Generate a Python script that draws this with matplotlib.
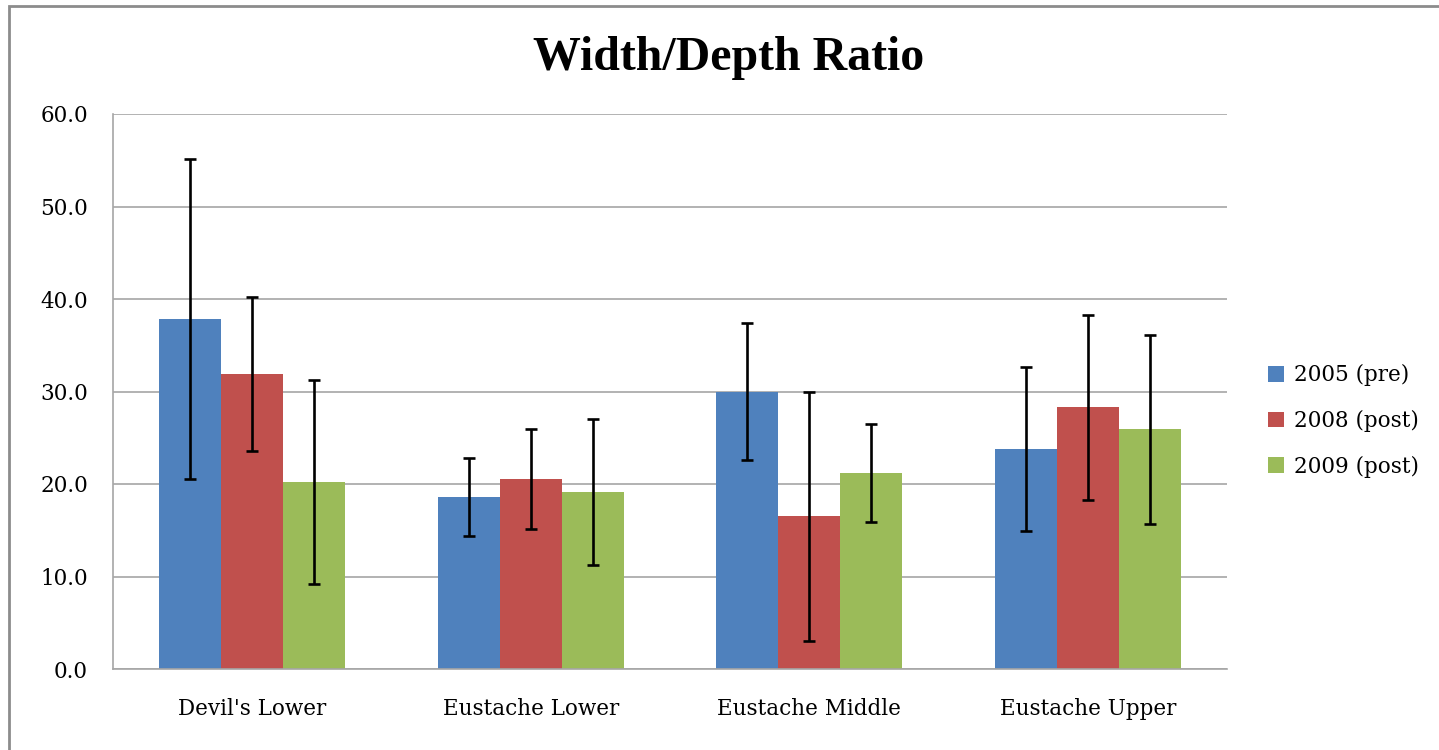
import numpy as np
import matplotlib.pyplot as plt
from matplotlib.patches import Rectangle

categories = ["Devil's Lower", "Eustache Lower", "Eustache Middle", "Eustache Upper"]
series = ["2005 (pre)", "2008 (post)", "2009 (post)"]
values_2005 = [37.8, 18.6, 30.0, 23.8]
values_2008 = [31.9, 20.5, 16.5, 28.3]
values_2009 = [20.2, 19.1, 21.2, 25.9]
err_2005 = [17.3, 4.2, 7.4, 8.9]
err_2008 = [8.3, 5.4, 13.5, 10.0]
err_2009 = [11.0, 7.9, 5.3, 10.2]
yticks = [0, 10, 20, 30, 40, 50, 60]

colors = ["#4F81BD", "#C0504D", "#9BBB59"]
plt.rcParams["font.family"] = ["DejaVu Serif"]

fig = plt.figure(figsize=(14.39, 7.5), dpi=100)
ax = fig.add_axes([0.0785, 0.108, 0.7742, 0.740])

# outer chart frame
fig.patches.append(Rectangle((9 / 1439, -0.05), 1.1, 0.05 + 0.9915, transform=fig.transFigure,
                             fill=False, edgecolor="#8c8c8c", linewidth=2))

x = np.arange(len(categories))
width = 1 / 4.5
all_vals = [values_2005, values_2008, values_2009]
all_errs = [err_2005, err_2008, err_2009]
for i, (vals, errs) in enumerate(zip(all_vals, all_errs)):
    ax.bar(x + (i - 1) * width, vals, width, color=colors[i], label=series[i], zorder=2)
    ax.errorbar(x + (i - 1) * width, vals, yerr=errs, fmt="none", ecolor="black",
                elinewidth=1.9, capsize=4.3, capthick=1.9, zorder=3)

ax.set_xlim(-0.5, len(categories) - 0.5)
ax.set_ylim(0, 60)
ax.set_yticks(yticks)
ax.set_yticklabels([f"{t:.1f}" for t in yticks])
ax.set_xticks(x)
ax.set_xticklabels(categories)
ax.yaxis.grid(True, color="#a6a6a6", linewidth=1.2, zorder=0)
ax.set_axisbelow(True)
for s in ["top", "right"]:
    ax.spines[s].set_visible(False)
for s in ["left", "bottom"]:
    ax.spines[s].set_color("#a6a6a6")
    ax.spines[s].set_linewidth(1.2)
ax.tick_params(axis="both", length=0, labelsize=15.5)
ax.tick_params(axis="x", pad=21)
ax.tick_params(axis="y", pad=18)

fig.text(0.5066, 0.922, "Width/Depth Ratio", ha="center", va="center",
         fontsize=34.5, fontweight="bold", family="Liberation Serif")

ax.legend(loc="center left", bbox_to_anchor=(1.0, 0.447), frameon=False, fontsize=15.5,
          handlelength=0.75, handleheight=0.75, handletextpad=0.45, labelspacing=1.1,
          borderaxespad=1.5)

fig.savefig("out.png", dpi=100)
